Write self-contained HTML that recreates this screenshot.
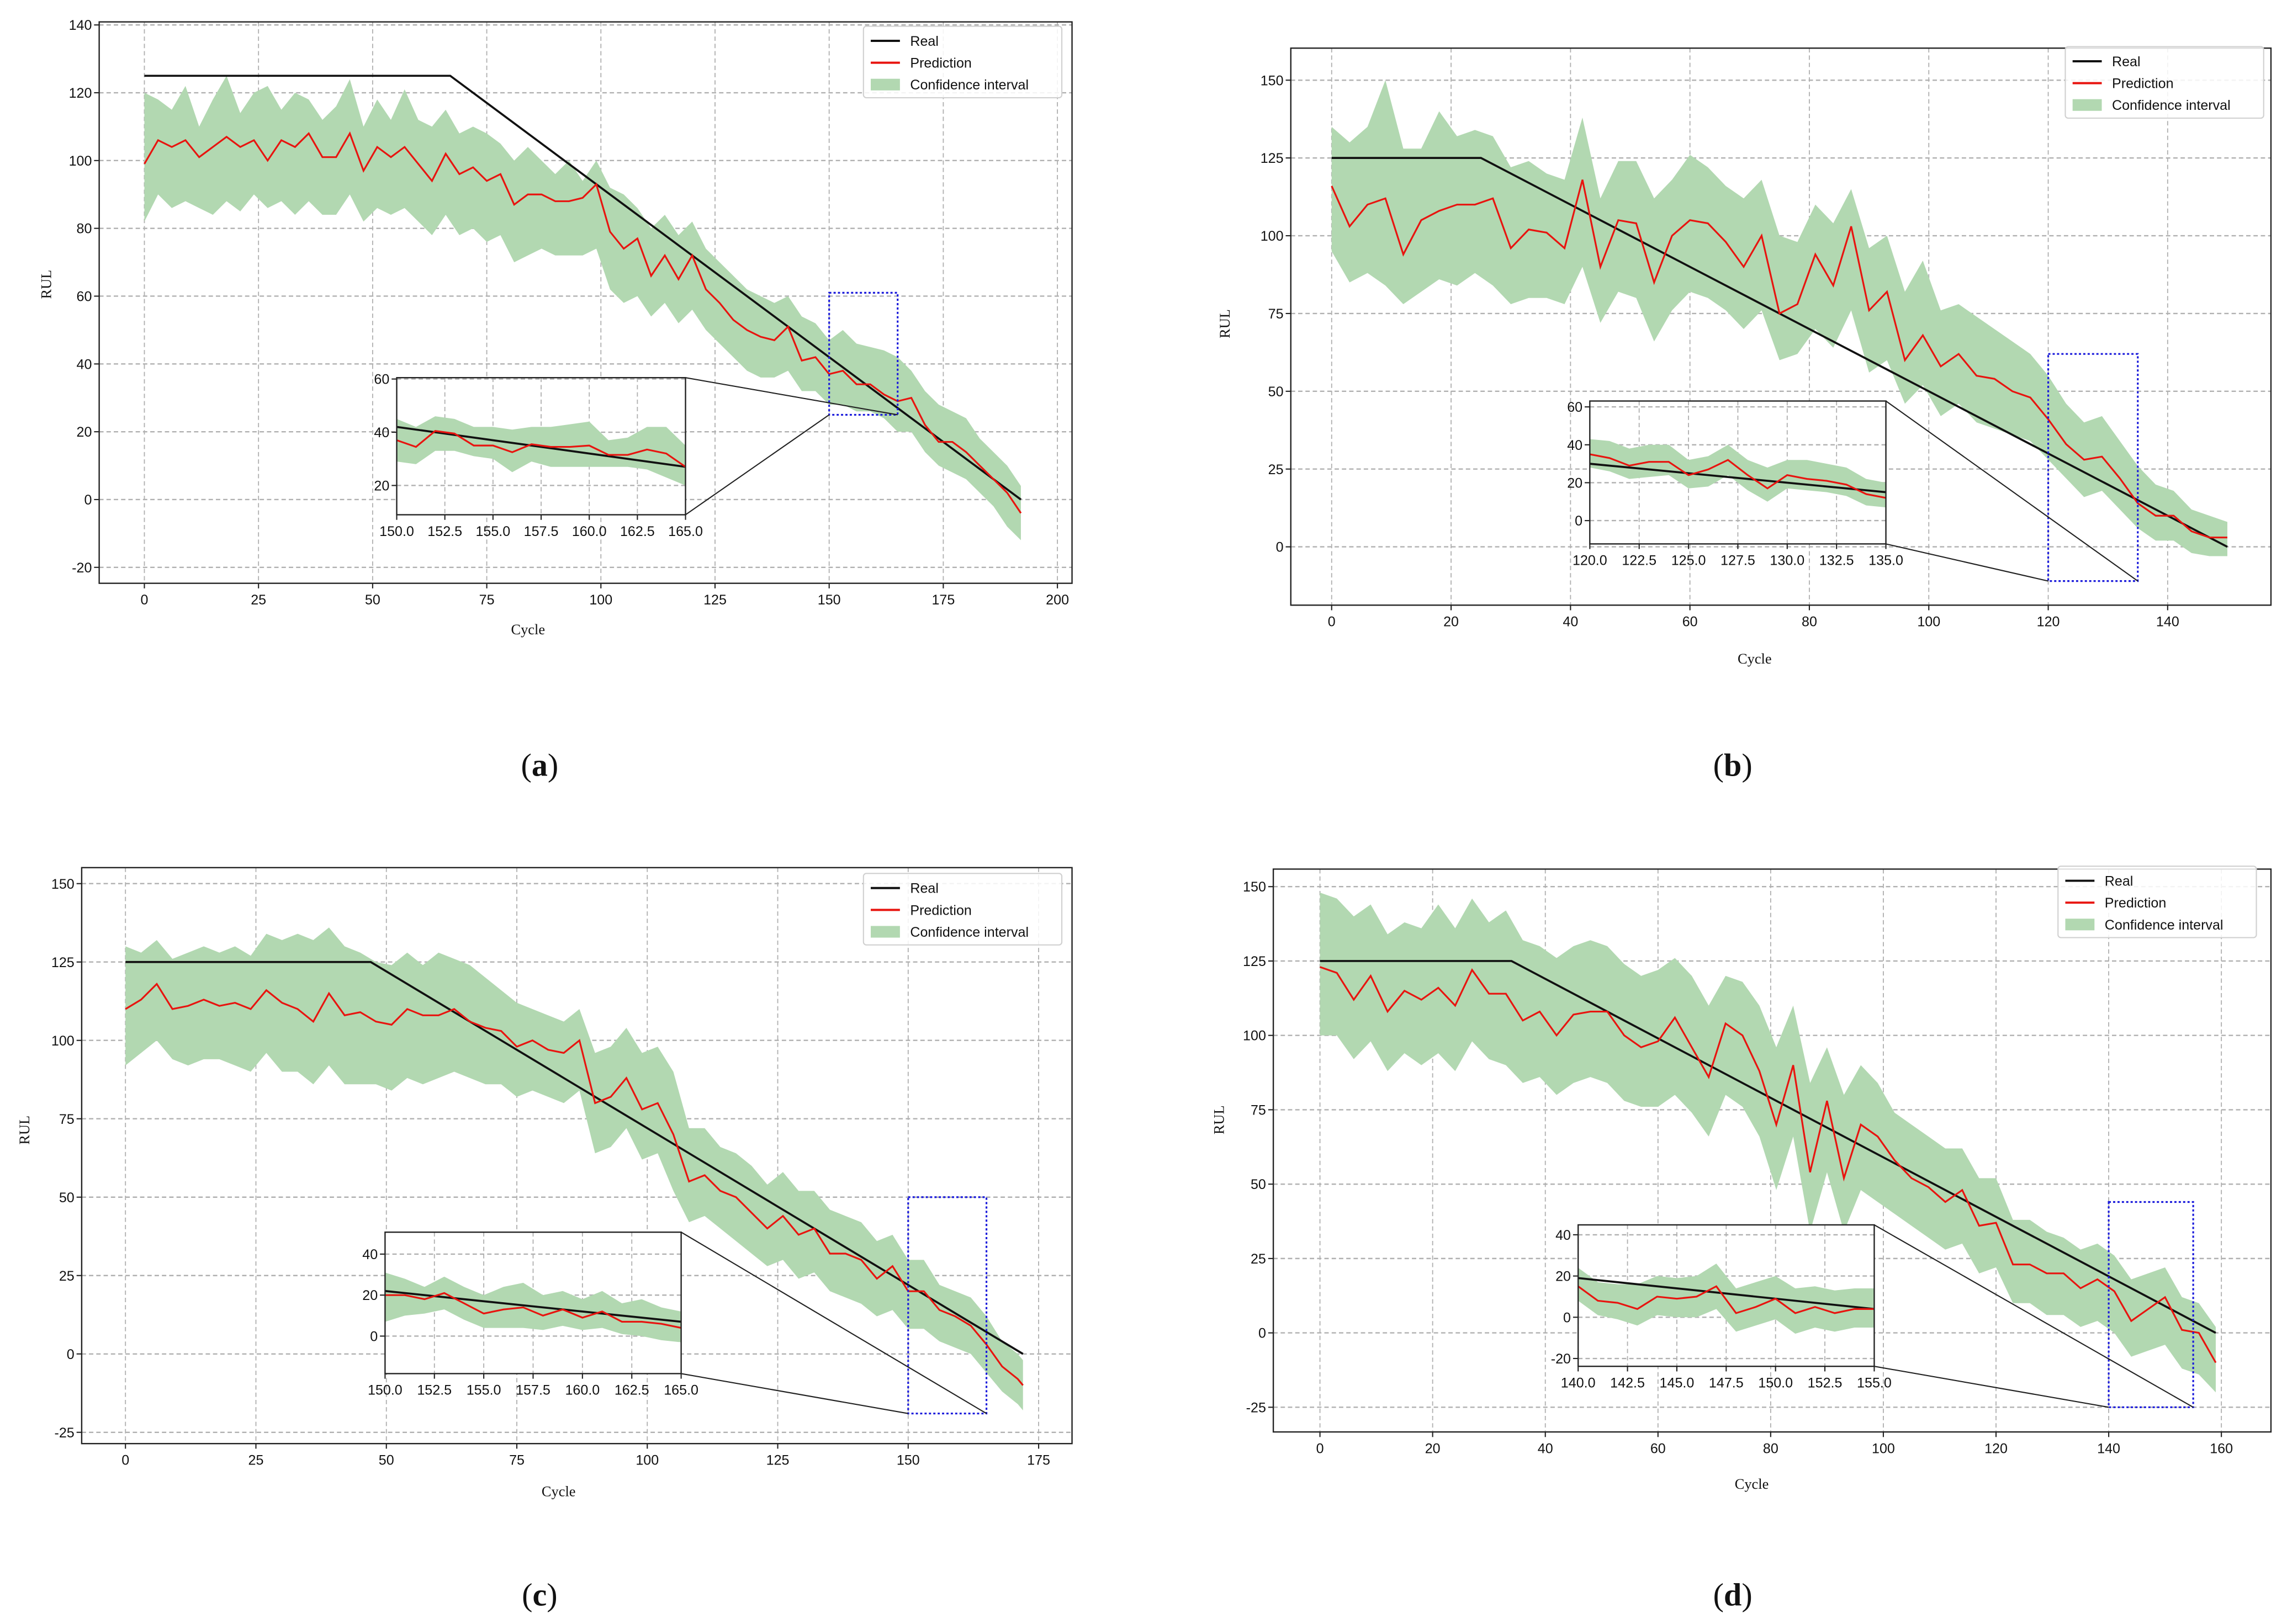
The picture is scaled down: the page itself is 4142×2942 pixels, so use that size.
<!DOCTYPE html>
<html><head><meta charset="utf-8"><style>
html,body{margin:0;padding:0;background:#fff}
svg{display:block}
text{font-family:"Liberation Sans",sans-serif;fill:#111}
.serif{font-family:"Liberation Serif",serif}
</style></head><body>
<svg id="fig" xmlns="http://www.w3.org/2000/svg" width="4142" height="2942" viewBox="0 0 1568 1113.7"></svg>
<script>
// ---------- Panel (a) data ----------
const aCycles=[0,3,6,9,12,15,18,21,24,27,30,33,36,39,42,45,48,51,54,57,60,63,66,69,72,75,78,81,84,87,90,93,96,99,102,105,108,111,114,117,120,123,126,129,132,135,138,141,144,147,150,153,156,159,162,165,168,171,174,177,180,183,186,189,192];
const aPred=[99,106,104,106,101,104,107,104,106,100,106,104,108,101,101,108,97,104,101,104,99,94,102,96,98,94,96,87,90,90,88,88,89,93,79,74,77,66,72,65,72,62,58,53,50,48,47,51,41,42,37,38,34,34,31,29,30,22,17,17,14,10,6,2,-4];
const aUpper=[120,118,115,122,110,118,125,114,120,122,115,120,118,112,116,124,110,118,112,121,112,110,115,108,110,108,105,100,104,100,96,100,94,100,92,90,86,80,84,78,82,74,70,66,62,60,58,60,54,52,47,50,46,45,44,42,38,32,28,26,24,18,14,10,4];
const aLower=[82,90,86,88,86,84,88,85,90,86,88,84,88,84,84,90,82,86,84,86,82,78,84,78,80,76,78,70,72,74,72,72,72,74,62,58,60,54,58,52,56,50,46,42,38,36,36,38,32,32,28,28,26,26,24,20,20,14,10,8,6,2,-2,-8,-12];
const aReal=[[0,125],[67,125],[192,0]];
const aInsetCycles=[150,151,152,153,154,155,156,157,158,159,160,161,162,163,164,165];
const aInsetPred=[37,34.5,40.5,39.5,35,35,32.5,35.5,34.5,34.5,35,31.5,31.5,33.5,32,27];
const aInsetUpper=[45,42,46,45,42,42,41,42,42,43,44,37,38,42,42,35];
const aInsetLower=[29,28,33,33,31,30,25,29,27,27,27,27,27,26,23,20];
const aXTicks=[0,25,50,75,100,125,150,175,200];
const aYTicks=[-20,0,20,40,60,80,100,120,140];
// ---------- Panel (b) data ----------
const bCycles=[0,3,6,9,12,15,18,21,24,27,30,33,36,39,42,45,48,51,54,57,60,63,66,69,72,75,78,81,84,87,90,93,96,99,102,105,108,111,114,117,120,123,126,129,132,135,138,141,144,147,150];
const bPred=[116,103,110,112,94,105,108,110,110,112,96,102,101,96,118,90,105,104,85,100,105,104,98,90,100,75,78,94,84,103,76,82,60,68,58,62,55,54,50,48,41,33,28,29,22,14,10,10,5,3,3];
const bUpper=[135,130,135,150,128,128,140,132,134,132,122,124,120,118,138,112,124,124,112,118,126,122,116,112,118,100,98,110,104,115,96,100,82,92,76,78,74,70,66,62,55,46,40,42,34,26,20,18,12,10,8];
const bLower=[95,85,88,84,78,82,86,84,88,84,78,80,80,78,90,72,82,80,66,76,82,80,76,70,76,60,62,70,64,76,56,60,46,52,42,46,40,38,36,34,28,22,16,18,12,6,2,2,-2,-3,-3];
const bReal=[[0,125],[25,125],[150,0]];
const bInsetCycles=[120,121,122,123,124,125,126,127,128,129,130,131,132,133,134,135];
const bInsetPred=[35,33,29,31,31,24,27,32,24,17,24,22,21,19,14,12];
const bInsetUpper=[43,42,38,40,40,32,34,40,32,28,32,32,30,28,22,20];
const bInsetLower=[28,26,22,23,24,17,18,24,16,10,17,16,15,13,8,7];
const bXTicks=[0,20,40,60,80,100,120,140];
const bYTicks=[0,25,50,75,100,125,150];
// ---------- Panel (c) data ----------
const cCycles=[0,3,6,9,12,15,18,21,24,27,30,33,36,39,42,45,48,51,54,57,60,63,66,69,72,75,78,81,84,87,90,93,96,99,102,105,108,111,114,117,120,123,126,129,132,135,138,141,144,147,150,153,156,159,162,165,168,171,172];
const cPred=[110,113,118,110,111,113,111,112,110,116,112,110,106,115,108,109,106,105,110,108,108,110,106,104,103,98,100,97,96,100,80,82,88,78,80,70,55,57,52,50,45,40,44,38,40,32,32,30,24,28,20,20,14,12,9,3,-4,-8,-10];
const cUpper=[130,128,132,126,128,130,128,130,127,134,132,134,132,136,130,128,125,124,128,124,128,126,124,120,116,112,110,108,106,110,96,98,104,96,98,90,72,72,66,64,60,54,58,52,52,46,44,42,36,38,30,30,22,20,18,12,4,0,-2];
const cLower=[92,96,100,94,92,94,94,92,90,96,90,90,86,92,86,86,86,84,88,86,88,90,88,86,86,82,84,82,80,84,64,66,72,62,64,52,42,44,40,36,32,28,30,24,26,20,18,16,12,14,8,8,4,2,0,-6,-12,-16,-18];
const cReal=[[0,125],[47,125],[172,0]];
const cInsetCycles=[150,151,152,153,154,155,156,157,158,159,160,161,162,163,164,165];
const cInsetPred=[20,20,18,21,16,11,13,14,10,13,9,12,7,7,6,4];
const cInsetUpper=[31,28,24,29,24,20,24,26,20,22,18,22,16,18,14,12];
const cInsetLower=[7,10,11,13,8,4,4,4,3,5,3,4,1,0,-2,-3];
const cXTicks=[0,25,50,75,100,125,150,175];
const cYTicks=[-25,0,25,50,75,100,125,150];
// ---------- Panel (d) data ----------
const dCycles=[0,3,6,9,12,15,18,21,24,27,30,33,36,39,42,45,48,51,54,57,60,63,66,69,72,75,78,81,84,87,90,93,96,99,102,105,108,111,114,117,120,123,126,129,132,135,138,141,144,147,150,153,156,159];
const dPred=[123,121,112,120,108,115,112,116,110,122,114,114,105,108,100,107,108,108,100,96,98,106,96,86,104,100,88,70,90,54,78,52,70,66,58,52,49,44,48,36,37,23,23,20,20,15,18,14,4,8,12,1,0,-10];
const dUpper=[148,146,140,144,134,138,136,144,136,146,138,142,132,130,126,130,132,130,124,120,122,126,120,110,120,118,110,96,110,84,96,80,90,84,74,70,66,62,62,52,52,38,38,34,32,28,30,26,18,20,22,12,10,2];
const dLower=[100,100,92,98,88,94,90,94,88,98,92,90,84,86,80,84,86,84,78,76,76,80,74,66,80,76,66,48,66,34,54,34,48,44,40,36,32,28,30,20,22,10,10,6,6,2,4,0,-8,-6,-4,-12,-14,-20];
const dReal=[[0,125],[34,125],[159,0]];
const dInsetCycles=[140,141,142,143,144,145,146,147,148,149,150,151,152,153,154,155];
const dInsetPred=[15,8,7,4,10,9,10,15,2,5,9,2,5,2,4,4];
const dInsetUpper=[24,17,16,16,20,19,20,26,14,17,20,14,15,13,14,14];
const dInsetLower=[8,1,-1,-4,1,0,0,4,-7,-4,-1,-8,-5,-7,-5,-5];
const dXTicks=[0,20,40,60,80,100,120,140,160];
const dYTicks=[-25,0,25,50,75,100,125,150];

const NS="http://www.w3.org/2000/svg";
const svg=document.getElementById('fig');
function mk(tag,attrs,parent){const e=document.createElementNS(NS,tag);for(const k in attrs)e.setAttribute(k,attrs[k]);(parent||svg).appendChild(e);return e;}
let clipN=0;

function drawAxes(g,box,xlim,ylim,cycles,pred,upper,lower,real,xt,yt,fs,xfmt,tickLab,nameP){
  const sx=v=>box.l+(v-xlim[0])/(xlim[1]-xlim[0])*(box.r-box.l);
  const sy=v=>box.b-(v-ylim[0])/(ylim[1]-ylim[0])*(box.b-box.t);
  mk('rect',{x:box.l,y:box.t,width:box.r-box.l,height:box.b-box.t,fill:'#fff'},g);
  const cid='clip'+(clipN++);
  const cp=mk('clipPath',{id:cid},g);mk('rect',{x:box.l,y:box.t,width:box.r-box.l,height:box.b-box.t},cp);
  const inner=mk('g',{'clip-path':'url(#'+cid+')'},g);
  xt.forEach(v=>{const l=mk('line',{x1:sx(v),x2:sx(v),y1:box.t,y2:box.b,stroke:'#b0b0b0','stroke-width':0.7,'stroke-dasharray':'3,2'},inner);
    
    });
  yt.forEach(v=>{const l=mk('line',{x1:box.l,x2:box.r,y1:sy(v),y2:sy(v),stroke:'#b0b0b0','stroke-width':0.9,'stroke-dasharray':'3,2'},inner);
    
    });
  let d='';cycles.forEach((c,i)=>{d+=(i?'L':'M')+sx(c).toFixed(2)+','+sy(upper[i]).toFixed(2);});
  for(let i=cycles.length-1;i>=0;i--)d+='L'+sx(cycles[i]).toFixed(2)+','+sy(lower[i]).toFixed(2);
  const band=mk('path',{d:d+'Z',fill:'#b2d8b1',stroke:'none'},inner);
  
  
  const rl=mk('polyline',{points:real.map(p=>sx(p[0])+','+sy(p[1])).join(' '),fill:'none',stroke:'#111','stroke-width':1.4},inner);
  
  
  const pl=mk('polyline',{points:cycles.map((c,i)=>sx(c).toFixed(2)+','+sy(pred[i]).toFixed(2)).join(' '),fill:'none',stroke:'#e8140f','stroke-width':1.2},inner);
  
  
  mk('rect',{x:box.l,y:box.t,width:box.r-box.l,height:box.b-box.t,fill:'none',stroke:'#222','stroke-width':0.9},g);
  xt.forEach(v=>{mk('line',{x1:sx(v),x2:sx(v),y1:box.b,y2:box.b+3.5,stroke:'#222','stroke-width':0.8},g);
    const t=mk('text',{x:sx(v),y:box.b+5+fs,'font-size':fs,'text-anchor':'middle'},g);t.textContent=xfmt(v);
    
    });
  yt.forEach(v=>{mk('line',{x1:box.l-3.5,x2:box.l,y1:sy(v),y2:sy(v),stroke:'#222','stroke-width':0.8},g);
    const t=mk('text',{x:box.l-5,y:sy(v)+fs*0.36,'font-size':fs,'text-anchor':'end'},g);t.textContent=v;
    
    });
  return {sx,sy};
}

function panel(P){
  const g=mk('g',{});
  
  
  const m=drawAxes(g,P.box,P.xlim,P.ylim,P.cycles,P.pred,P.upper,P.lower,P.real,P.xt,P.yt,9.5,v=>v,true,'main-');
  // zoom box
  const bx1=m.sx(P.zx[0]),bx2=m.sx(P.zx[1]),by1=m.sy(P.zy[1]),by2=m.sy(P.zy[0]);
  const zb=mk('rect',{x:bx1,y:by1,width:bx2-bx1,height:by2-by1,fill:'none',stroke:'#1a1adb','stroke-width':1.2,'stroke-dasharray':'1.5,1.5'},g);
  
  
  const I=P.ib;
  const c1=mk('line',{x1:I.r,y1:I.t,x2:bx2,y2:by2,stroke:'#222','stroke-width':0.8},g);
  
  
  const c2=mk('line',{x1:I.r,y1:I.b,x2:bx1,y2:by2,stroke:'#222','stroke-width':0.8},g);
  
  
  const ig=mk('g',{},g);
  
  
  drawAxes(ig,I,P.zx,P.iylim,P.icycles,P.ipred,P.iupper,P.ilower,P.ireal,[0,2.5,5,7.5,10,12.5,15].map(v=>P.zx[0]+v),P.iyt,9.5,v=>v.toFixed(1),true,'inset-');
  // legend
  const L=P.leg;
  const lg=mk('g',{},g);
  
  
  mk('rect',{x:L.x,y:L.y,width:136,height:49,rx:2,fill:'#fff','fill-opacity':0.85,stroke:'#d0d0d0','stroke-width':0.8},lg);
  const items=[['Real','line','#111'],['Prediction','line','#e8140f'],['Confidence interval','patch','#b2d8b1']];
  items.forEach((it,i)=>{const yy=L.y+10+i*15;
    if(it[1]==='line')mk('line',{x1:L.x+5,x2:L.x+25,y1:yy,y2:yy,stroke:it[2],'stroke-width':1.5},lg);
    else mk('rect',{x:L.x+5,y:yy-4,width:20,height:8,fill:it[2]},lg);
    const t=mk('text',{x:L.x+32,y:yy+3.4,'font-size':9.5},lg);t.textContent=it[0];
    
    });
  const yl=mk('text',{x:0,y:0,'font-size':10,'text-anchor':'middle',class:'serif',transform:`translate(${P.ylab[0]},${P.ylab[1]}) rotate(-90)`},g);yl.textContent='RUL';
  
  
  const xl=mk('text',{x:P.xlab[0],y:P.xlab[1],'font-size':10,'text-anchor':'middle',class:'serif'},g);xl.textContent='Cycle';
  
  
  const cap=mk('text',{x:P.cap[0],y:P.cap[1],'font-size':22,'text-anchor':'middle',class:'serif'},g);
  cap.innerHTML='(<tspan font-weight="bold">'+P.id+'</tspan>)';
  
  
}

panel({id:'a',box:{l:68,r:735,t:15,b:400},xlim:[-9.9,203.2],ylim:[-24.7,140.9],cycles:aCycles,pred:aPred,upper:aUpper,lower:aLower,real:aReal,xt:aXTicks,yt:aYTicks,
  zx:[150,165],zy:[25,61],ib:{l:272,r:470,t:259,b:353},iylim:[9.0,60.5],iyt:[20,40,60],icycles:aInsetCycles,ipred:aInsetPred,iupper:aInsetUpper,ilower:aInsetLower,ireal:[[150,42],[165,27]],
  leg:{x:592,y:18},ylab:[35,195],xlab:[362,435],cap:[370,532]});
panel({id:'b',box:{l:885,r:1557,t:33,b:415},xlim:[-6.84,157.3],ylim:[-18.75,160.3],cycles:bCycles,pred:bPred,upper:bUpper,lower:bLower,real:bReal,xt:bXTicks,yt:bYTicks,
  zx:[120,135],zy:[-11,62],ib:{l:1090,r:1293,t:275,b:373},iylim:[-12.3,63.1],iyt:[0,20,40,60],icycles:bInsetCycles,ipred:bInsetPred,iupper:bInsetUpper,ilower:bInsetLower,ireal:[[120,30],[135,15]],
  leg:{x:1416,y:32},ylab:[843,222],xlab:[1203,455],cap:[1188,532]});
panel({id:'c',box:{l:56,r:735,t:595,b:990},xlim:[-8.39,181.4],ylim:[-28.6,155.1],cycles:cCycles,pred:cPred,upper:cUpper,lower:cLower,real:cReal,xt:cXTicks,yt:cYTicks,
  zx:[150,165],zy:[-19,50],ib:{l:264,r:467,t:845,b:942},iylim:[-18.3,50.7],iyt:[0,20,40],icycles:cInsetCycles,ipred:cInsetPred,iupper:cInsetUpper,ilower:cInsetLower,ireal:[[150,22],[165,7]],
  leg:{x:592,y:599},ylab:[20,775],xlab:[383,1026],cap:[370,1101]});
panel({id:'d',box:{l:873,r:1557,t:596,b:982},xlim:[-8.28,168.8],ylim:[-33.3,155.9],cycles:dCycles,pred:dPred,upper:dUpper,lower:dLower,real:dReal,xt:dXTicks,yt:dYTicks,
  zx:[140,155],zy:[-25,44],ib:{l:1082,r:1285,t:840,b:937},iylim:[-23.8,44.8],iyt:[-20,0,20,40],icycles:dInsetCycles,ipred:dInsetPred,iupper:dInsetUpper,ilower:dInsetLower,ireal:[[140,19],[155,4]],
  leg:{x:1411,y:594},ylab:[839,768],xlab:[1201,1021],cap:[1188,1101]});
</script>
</body></html>
